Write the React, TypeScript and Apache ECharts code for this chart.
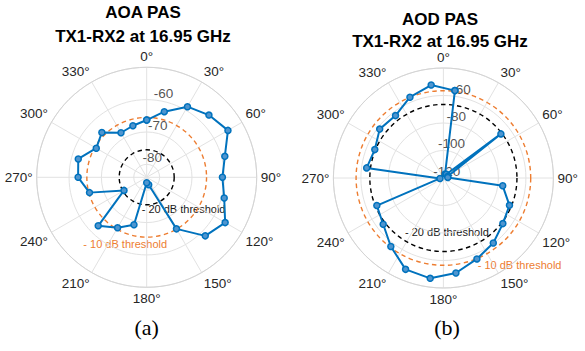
import React, { useEffect, useRef } from "react";
import * as echarts from "echarts";

// ---- Data ----
const aoaAngles = [0, 15, 30, 45, 60, 75, 90, 105, 120, 135, 150, 165, 180, 195, 210, 225, 240, 255, 270, 285, 300, 315, 330, 345];
const aoaValues = [-66.3, -63, -58.8, -56.8, -55, -59, -60.6, -59.2, -56, -58.4, -65.6, -81.6, -82.3, -68.8, -66, -62.8, -75.9, -65.7, -62.8, -62.1, -66, -64.4, -68.1, -67.5];

const aodAngles = [7.5, 22.5, 37.5, 52.5, 67.5, 82.5, 97.5, 112.5, 127.5, 142.5, 157.5, 172.5, 187.5, 202.5, 217.5, 232.5, 247.5, 262.5, 277.5, 292.5, 307.5, 322.5, 337.5, 352.5];
const aodValues = [-55.9, -116.8, -116.5, -67.3, -116.5, -116.8, -76.5, -68, -65.5, -60.4, -56.3, -50.3, -46.4, -48.1, -57.2, -64.8, -67.6, -117.5, -63.7, -66, -61.6, -62.8, -56.4, -51.8];

const aoaRange = [-84, -50];
const aodRange = [-120, -40];
const aoaTicks = [-80, -70, -60];
const aodTicks = [-120, -100, -80, -60];
const aoaThresholds = [-65.5, -75.5]; // -10 dB, -20 dB
const aodThresholds = [-56.5, -66.5];
const angleTicks = [0, 30, 60, 90, 120, 150, 180, 210, 240, 270, 300, 330];

const FONT = "'Liberation Sans', Arial, Helvetica, sans-serif";
const GRID = "#e2e2e2";
const TEXT = "#262626";
const BLUE = "#0072BD";
const ORANGE = "#ED7D31";

function thresholdSeries(polarIndex: number, value: number, color: string) {
  return {
    type: "custom",
    coordinateSystem: "polar",
    polarIndex,
    silent: true,
    z: 3,
    data: [[value, 0]],
    renderItem: (params: any, api: any) => {
      const cs = params.coordSys;
      const p = api.coord([api.value(0), 0]);
      const rr = Math.hypot(p[0] - cs.cx, p[1] - cs.cy);
      return {
        type: "circle",
        shape: { cx: cs.cx, cy: cs.cy, r: rr },
        style: { fill: null, stroke: color, lineWidth: 1.4, lineDash: [4.5, 3.5] },
      };
    },
  };
}

function tickLabelSeries(polarIndex: number, ticks: number[]) {
  return {
    type: "scatter",
    coordinateSystem: "polar",
    polarIndex,
    silent: true,
    symbol: "circle",
    symbolSize: 0.1,
    itemStyle: { color: "transparent" },
    z: 4,
    data: ticks.map((t) => [t, 10]),
    label: {
      show: true,
      position: "inside",
      offset: [3.3, -7],
      formatter: (p: any) => String(p.value[0]),
      color: TEXT,
      fontSize: 13.5,
      fontFamily: FONT,
    },
  };
}

function lineSeries(polarIndex: number, angles: number[], values: number[]) {
  const data = angles.map((a, i) => [values[i], a]);
  data.push([values[0], angles[0] + 360]);
  return {
    type: "line",
    coordinateSystem: "polar",
    polarIndex,
    z: 5,
    symbol: "circle",
    symbolSize: 6,
    showSymbol: true,
    lineStyle: { color: BLUE, width: 2 },
    itemStyle: { color: "#4f95cf", borderColor: BLUE, borderWidth: 1.5 },
    data,
  };
}

function angleAxis(polarIndex: number) {
  return {
    polarIndex,
    type: "value",
    min: 0,
    max: 360,
    interval: 30,
    startAngle: 90,
    clockwise: true,
    axisLine: { show: true, lineStyle: { color: "#d4d4d4", width: 1 } },
    axisTick: { show: false },
    axisLabel: {
      formatter: (v: number) => (angleTicks.includes(v) ? v + "°" : ""),
      margin: 4,
      color: TEXT,
      fontSize: 13.5,
      fontFamily: FONT,
    },
    splitLine: { show: true, lineStyle: { color: GRID, width: 1 } },
  };
}

function radiusAxis(polarIndex: number, range: number[], step: number) {
  return {
    polarIndex,
    type: "value",
    min: range[0],
    max: range[1],
    minInterval: step,
    maxInterval: step,
    axisLine: { show: false },
    axisTick: { show: false },
    axisLabel: { show: false },
    splitLine: { show: true, lineStyle: { color: GRID, width: 1 } },
  };
}

function txt(text: string, x: number, y: number, opts: any) {
  return {
    type: "text",
    x,
    y,
    silent: true,
    style: {
      text,
      textAlign: opts.align || "center",
      textVerticalAlign: "middle",
      fill: opts.color || "#000",
      font: opts.font,
    },
  };
}

export default function App() {
  const ref = useRef<HTMLDivElement>(null);
  useEffect(() => {
    if (!ref.current) return;
    const chart = echarts.init(ref.current, undefined, { renderer: "svg" });
    const titleFont = `bold 17px ${FONT}`;
    const thrFont = `11px ${FONT}`;
    const capFont = `22px 'Liberation Serif', 'Times New Roman', serif`;
    chart.setOption({
      animation: false,
      backgroundColor: "#ffffff",
      polar: [
        { center: [146.7, 177.3], radius: 110 },
        { center: [443.4, 178], radius: 110 },
      ],
      angleAxis: [angleAxis(0), angleAxis(1)],
      radiusAxis: [radiusAxis(0, aoaRange, 10), radiusAxis(1, aodRange, 20)],
      series: [
        thresholdSeries(0, aoaThresholds[0], ORANGE),
        thresholdSeries(0, aoaThresholds[1], "#000000"),
        thresholdSeries(1, aodThresholds[0], ORANGE),
        thresholdSeries(1, aodThresholds[1], "#000000"),
        tickLabelSeries(0, aoaTicks),
        tickLabelSeries(1, aodTicks),
        lineSeries(0, aoaAngles, aoaValues),
        lineSeries(1, aodAngles, aodValues),
      ],
      graphic: [
        txt("AOA PAS", 143, 12.5, { font: titleFont }),
        txt("TX1-RX2 at 16.95 GHz", 143, 36, { font: titleFont }),
        txt("AOD PAS", 440, 19.2, { font: titleFont }),
        txt("TX1-RX2 at 16.95 GHz", 440, 41, { font: titleFont }),
        txt("- 20 dB threshold", 141.7, 209.3, { font: thrFont, align: "left", color: "#1a1a1a" }),
        txt("- 10 dB threshold", 83.3, 244.3, { font: thrFont, align: "left", color: ORANGE }),
        txt("- 20 dB threshold", 405, 232, { font: thrFont, align: "left", color: "#1a1a1a" }),
        txt("- 10 dB threshold", 477.7, 265.3, { font: thrFont, align: "left", color: ORANGE }),
        txt("(a)", 146.7, 327, { font: capFont }),
        txt("(b)", 447, 327, { font: capFont }),
      ],
    });
    return () => chart.dispose();
  }, []);
  return (
    <div
      ref={ref}
      style={{ position: "fixed", left: 0, top: 0, width: 585, height: 351, background: "#fff" }}
    />
  );
}
